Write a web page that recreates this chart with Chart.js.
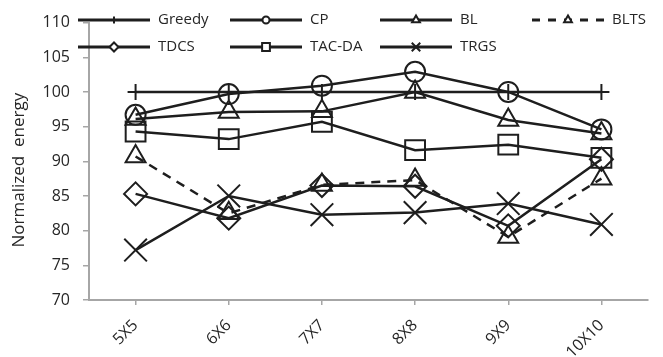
<!DOCTYPE html>
<html>
<head>
<meta charset="utf-8">
<script src="https://cdn.jsdelivr.net/npm/chart.js@4/dist/chart.umd.min.js"></script>
<style>
html,body{margin:0;padding:0;background:#fff;overflow:hidden;}
#wrap{position:relative;width:666px;height:357px;}
</style>
</head>
<body>
<div id="wrap"><canvas id="c"></canvas></div>
<script>
const categories = ['5X5', '6X6', '7X7', '8X8', '9X9', '10X10'];
const seriesNames = ['Greedy', 'CP', 'BL', 'BLTS', 'TDCS', 'TAC-DA', 'TRGS'];
const greedy = [100, 100, 100, 100, 100, 100];
const cp = [96.7, 99.7, 100.9, 102.9, 100.0, 94.6];
const bl = [96.1, 97.1, 97.2, 100.0, 95.95, 94.0];
const blts = [90.7, 82.5, 86.6, 87.3, 79.1, 87.5];
const tdcs = [85.3, 81.8, 86.5, 86.4, 80.7, 90.3];
const tacda = [94.3, 93.2, 95.7, 91.6, 92.4, 90.5];
const trgs = [77.2, 85.0, 82.3, 82.6, 83.9, 80.9];
const yTickMin = 70, yTickMax = 110, yTickStep = 5;

const INK = '#1e1e1e';
const AXIS = '#a6a6a6';
const FONT = "'Open Sans', sans-serif";

const styles = [
  {data: greedy, pointStyle: 'cross', r: 8, lr: 3.5, dash: []},
  {data: cp, pointStyle: 'circle', r: 10, lr: 3.5, dash: []},
  {data: bl, pointStyle: 'triangle', r: 11.5, lr: 4.5, dash: []},
  {data: blts, pointStyle: 'triangle', r: 11.5, lr: 4.5, dash: [9, 7]},
  {data: tdcs, pointStyle: 'rectRot', r: 11.5, lr: 4.5, dash: []},
  {data: tacda, pointStyle: 'rect', r: 14, lr: 5.5, dash: []},
  {data: trgs, pointStyle: 'crossRot', r: 16, lr: 6, dash: []}
];

const datasets = styles.map((s, i) => ({
  label: seriesNames[i],
  data: s.data,
  borderColor: INK,
  backgroundColor: 'rgba(0,0,0,0)',
  borderWidth: 2.5,
  borderDash: s.dash,
  pointStyle: s.pointStyle,
  pointRadius: s.r,
  pointHoverRadius: s.r,
  pointBorderColor: INK,
  pointBackgroundColor: 'rgba(0,0,0,0)',
  pointBorderWidth: 2,
  tension: 0,
  fill: false
}));

const legendPlugin = {
  id: 'overlayLegend',
  afterDraw(chart) {
    const ctx = chart.ctx;
    const colX = [78, 230, 380, 532];
    const rowY = [20, 47];
    const lineLen = 72;
    ctx.save();
    chart.data.datasets.forEach((ds, i) => {
      const col = i < 4 ? i : i - 4;
      const row = i < 4 ? 0 : 1;
      const x0 = colX[col], y = rowY[row];
      ctx.strokeStyle = INK;
      ctx.lineWidth = 3;
      ctx.setLineDash(styles[i].dash.length ? [8, 8] : []);
      ctx.beginPath();
      ctx.moveTo(x0, y);
      ctx.lineTo(x0 + lineLen, y);
      ctx.stroke();
      ctx.setLineDash([]);
      ctx.fillStyle = '#fff';
      ctx.strokeStyle = INK;
      ctx.lineWidth = 2;
      Chart.helpers.drawPoint(ctx, {pointStyle: styles[i].pointStyle, radius: styles[i].lr, rotation: 0, borderWidth: 2}, x0 + lineLen / 2, y);
      ctx.fillStyle = '#262626';
      ctx.font = "15px " + FONT;
      ctx.textAlign = 'left';
      ctx.textBaseline = 'middle';
      ctx.fillText(ds.label, x0 + lineLen + 8, y);
    });
    ctx.restore();
  }
};

new Chart(document.getElementById('c'), {
  type: 'line',
  data: {labels: categories, datasets},
  options: {
    responsive: true,
    maintainAspectRatio: false,
    animation: false,
    layout: {padding: {top: 20, right: 0, left: 0, bottom: 0}},
    plugins: {legend: {display: false}, tooltip: {enabled: false}},
    scales: {
      x: {
        offset: true,
        grid: {display: true, drawOnChartArea: false, drawTicks: true, tickLength: 5, color: AXIS, lineWidth: 1.5},
        border: {color: AXIS, width: 2},
        ticks: {color: '#262626', font: {family: FONT, size: 16}, minRotation: 45, maxRotation: 45, padding: 11},
        afterFit(s) { s.height = 57; }
      },
      y: {
        min: yTickMin, max: yTickMax,
        grid: {display: true, drawOnChartArea: false, drawTicks: true, tickLength: 6, color: AXIS, lineWidth: 1.5},
        border: {color: AXIS, width: 2},
        ticks: {stepSize: yTickStep, color: '#262626', font: {family: FONT, size: 16}, padding: 13},
        title: {display: true, text: 'Normalized  energy    ', color: '#262626', font: {family: FONT, size: 17}, padding: {top: 9, bottom: 0}},
        afterFit(s) { s.width = 89; }
      }
    }
  },
  plugins: [legendPlugin]
});
</script>
</body>
</html>
